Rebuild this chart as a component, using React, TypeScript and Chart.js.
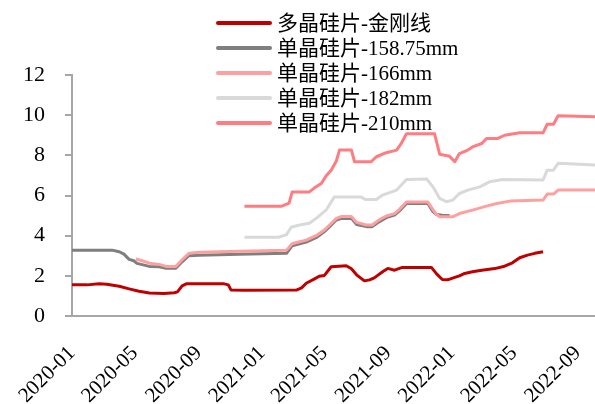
import React, { useEffect, useRef } from "react";
import { Chart, registerables } from "chart.js";

Chart.register(...registerables);

// Wafer price series (yuan per piece), weekly quotes sampled at their turning points.
const seriesNames = [
  "多晶硅片-金刚线",
  "单晶硅片-158.75mm",
  "单晶硅片-166mm",
  "单晶硅片-182mm",
  "单晶硅片-210mm",
];
const seriesColors = ["#C00000", "#7F7F7F", "#FFA0A0", "#D9D9D9", "#FF7C80"];

const tickLabels = [
  "2020-01", "2020-05", "2020-09", "2021-01", "2021-05",
  "2021-09", "2022-01", "2022-05", "2022-09",
];
const axisStart = "2020-01-01";
const axisEnd = "2022-10-04";

const polyDates = [
  "2020-01-01", "2020-01-30", "2020-02-22", "2020-03-08", "2020-04-01", "2020-04-20",
  "2020-05-09", "2020-05-29", "2020-06-26", "2020-07-16", "2020-07-22", "2020-07-31",
  "2020-08-08", "2020-10-20", "2020-10-28", "2020-11-02", "2020-11-28", "2021-03-08",
  "2021-03-18", "2021-03-27", "2021-04-12", "2021-04-21", "2021-05-01", "2021-05-14",
  "2021-06-12", "2021-06-22", "2021-07-02", "2021-07-17", "2021-07-27", "2021-08-05",
  "2021-08-21", "2021-08-31", "2021-09-13", "2021-09-28", "2021-11-23", "2021-12-03",
  "2021-12-14", "2021-12-24", "2022-01-07", "2022-01-16", "2022-01-26", "2022-02-10",
  "2022-02-28", "2022-03-25", "2022-04-13", "2022-04-28", "2022-05-12", "2022-05-27",
  "2022-06-10", "2022-06-26",
];
const polyPrices = [
  1.55, 1.55, 1.6, 1.58, 1.48, 1.35,
  1.23, 1.15, 1.12, 1.16, 1.2, 1.5,
  1.6, 1.6, 1.55, 1.3, 1.28, 1.29,
  1.4, 1.63, 1.85, 1.98, 2.02, 2.45,
  2.5, 2.35, 2.05, 1.75, 1.8, 1.9,
  2.2, 2.37, 2.28, 2.42, 2.42, 2.1,
  1.82, 1.8, 1.92, 2.0, 2.12, 2.2,
  2.28, 2.36, 2.48, 2.65, 2.9, 3.03,
  3.12, 3.2,
];

const m158Dates = [
  "2020-01-01", "2020-03-18", "2020-04-01", "2020-04-10", "2020-04-20", "2020-04-29",
  "2020-05-05", "2020-05-29", "2020-06-17", "2020-06-30", "2020-07-19", "2020-07-31",
  "2020-08-13", "2020-09-02", "2020-11-18", "2021-02-17", "2021-02-28", "2021-03-14",
  "2021-03-27", "2021-04-17", "2021-05-01", "2021-05-11", "2021-05-24", "2021-06-03",
  "2021-06-22", "2021-07-02", "2021-07-21", "2021-08-01", "2021-08-15", "2021-08-28",
  "2021-09-13", "2021-09-22", "2021-10-06", "2021-11-16", "2021-11-26", "2021-12-03",
  "2021-12-14", "2021-12-28",
];
const m158Prices = [
  3.28, 3.28, 3.2, 3.08, 2.82, 2.75,
  2.62, 2.47, 2.45, 2.38, 2.38, 2.7,
  3.0, 3.03, 3.08, 3.12, 3.5, 3.6,
  3.68, 3.93, 4.2, 4.45, 4.78, 4.86,
  4.86, 4.56, 4.45, 4.45, 4.7, 4.9,
  5.02, 5.22, 5.6, 5.6, 5.2, 5.05,
  5.02, 5.0,
];

const m166Dates = [
  "2020-05-03", "2020-05-15", "2020-05-29", "2020-06-17", "2020-06-30", "2020-07-19",
  "2020-07-31", "2020-08-13", "2020-09-02", "2020-11-18", "2021-02-17", "2021-02-28",
  "2021-03-14", "2021-03-27", "2021-04-17", "2021-05-01", "2021-05-11", "2021-05-24",
  "2021-06-03", "2021-06-22", "2021-07-02", "2021-07-21", "2021-08-01", "2021-08-15",
  "2021-08-28", "2021-09-13", "2021-09-22", "2021-10-06", "2021-11-16", "2021-11-26",
  "2021-12-03", "2021-12-09", "2022-01-03", "2022-01-16", "2022-02-10", "2022-03-09",
  "2022-03-29", "2022-04-23", "2022-06-26", "2022-07-04", "2022-07-16", "2022-07-25",
  "2022-10-04",
];
const m166Prices = [
  2.84, 2.75, 2.63, 2.57, 2.47, 2.47,
  2.8, 3.12, 3.17, 3.22, 3.28, 3.6,
  3.7, 3.78, 4.03, 4.28, 4.53, 4.86,
  4.96, 4.96, 4.66, 4.53, 4.53, 4.8,
  4.98, 5.1, 5.3, 5.68, 5.68, 5.3,
  5.05, 4.94, 4.94, 5.1, 5.27, 5.47,
  5.6, 5.72, 5.77, 6.07, 6.07, 6.27,
  6.27,
];

const m182Dates = [
  "2020-11-28", "2021-02-02", "2021-02-17", "2021-02-26", "2021-03-14", "2021-04-02",
  "2021-04-17", "2021-05-05", "2021-05-20", "2021-07-11", "2021-07-19", "2021-08-09",
  "2021-08-21", "2021-09-17", "2021-10-06", "2021-11-14", "2021-11-26", "2021-12-09",
  "2021-12-22", "2022-01-03", "2022-01-16", "2022-02-01", "2022-02-24", "2022-03-15",
  "2022-04-09", "2022-06-26", "2022-07-04", "2022-07-16", "2022-07-25", "2022-10-04",
];
const m182Prices = [
  3.92, 3.92, 4.05, 4.42, 4.53, 4.62,
  4.9, 5.3, 5.92, 5.92, 5.8, 5.8,
  6.02, 6.27, 6.8, 6.82, 6.43, 5.85,
  5.69, 5.77, 6.1, 6.27, 6.43, 6.68,
  6.8, 6.77, 7.26, 7.26, 7.6, 7.52,
];

const m210Dates = [
  "2020-11-28", "2021-02-08", "2021-02-22", "2021-02-28", "2021-04-02", "2021-04-12",
  "2021-04-25", "2021-05-05", "2021-05-14", "2021-05-24", "2021-05-30", "2021-06-22",
  "2021-06-28", "2021-07-30", "2021-08-09", "2021-08-28", "2021-09-17", "2021-09-26",
  "2021-10-06", "2021-11-29", "2021-12-09", "2021-12-28", "2022-01-07", "2022-01-16",
  "2022-02-01", "2022-02-10", "2022-02-28", "2022-03-09", "2022-03-31", "2022-04-13",
  "2022-05-12", "2022-06-26", "2022-07-04", "2022-07-16", "2022-07-25", "2022-10-04",
];
const m210Prices = [
  5.47, 5.47, 5.62, 6.18, 6.18, 6.38,
  6.6, 7.0, 7.26, 7.72, 8.26, 8.26,
  7.68, 7.68, 7.93, 8.13, 8.26, 8.59,
  9.08, 9.08, 8.05, 7.95, 7.68, 8.09,
  8.26, 8.42, 8.59, 8.84, 8.84, 9.0,
  9.12, 9.12, 9.55, 9.55, 9.97, 9.92,
];

const seriesDates = [polyDates, m158Dates, m166Dates, m182Dates, m210Dates];
const seriesPrices = [polyPrices, m158Prices, m166Prices, m182Prices, m210Prices];

const DAY = 86400000;
const dayOf = (s: string) => {
  const [y, m, d] = s.split("-").map(Number);
  return (Date.UTC(y, m - 1, d || 1) - Date.UTC(2020, 0, 1)) / DAY;
};

const FONT = '"Liberation Serif", "Times New Roman", "Noto Sans CJK SC", serif';
const AXIS_GRAY = "#A6A6A6";

// Vertical legend drawn over the top of the plot area.
const stackedLegend = {
  id: "stackedLegend",
  afterDraw(chart: Chart) {
    const { ctx } = chart;
    ctx.save();
    ctx.font = `21px ${FONT}`;
    ctx.textBaseline = "middle";
    ctx.textAlign = "left";
    seriesNames.forEach((name, i) => {
      const y = 23 + i * 25;
      ctx.strokeStyle = seriesColors[i];
      ctx.lineWidth = 4;
      ctx.lineCap = "round";
      ctx.beginPath();
      ctx.moveTo(218, y);
      ctx.lineTo(270, y);
      ctx.stroke();
      ctx.fillStyle = "#000000";
      ctx.fillText(name, 277, y + 1);
    });
    ctx.restore();
  },
};

export default function App() {
  const canvasRef = useRef<HTMLCanvasElement | null>(null);

  useEffect(() => {
    document.body.style.margin = "0";
    const canvas = canvasRef.current;
    if (!canvas) return;

    const tickDays = tickLabels.map((t) => dayOf(t));

    const datasets = seriesNames.map((name, i) => ({
      label: name,
      data: seriesDates[i].map((d, k) => ({ x: dayOf(d), y: seriesPrices[i][k] })),
      borderColor: seriesColors[i],
      backgroundColor: seriesColors[i],
      borderWidth: 3,
      pointRadius: 0,
      tension: 0,
      borderJoinStyle: "round" as const,
      borderCapStyle: "butt" as const,
      fill: false,
      order: seriesNames.length - i,
    }));

    const chart = new Chart(canvas, {
      type: "line",
      data: { datasets },
      options: {
        responsive: false,
        animation: false,
        devicePixelRatio: 1,
        layout: { padding: { top: 75, right: 0, left: 0, bottom: 0 } },
        plugins: {
          legend: { display: false },
          tooltip: { enabled: false },
          title: { display: false },
        },
        scales: {
          x: {
            type: "linear",
            min: dayOf(axisStart),
            max: dayOf(axisEnd),
            afterBuildTicks: (scale: any) => {
              scale.ticks = tickDays.map((v) => ({ value: v }));
            },
            afterFit: (scale: any) => {
              scale.height = 88;
              // the plot runs to the right edge; rotated labels never overflow it
              scale.paddingRight = 0;
              scale.paddingLeft = 0;
            },
            ticks: {
              autoSkip: false,
              minRotation: 45,
              maxRotation: 45,
              padding: 17,
              color: "#000000",
              font: { family: FONT, size: 21 },
              callback: (value: any) => {
                const idx = tickDays.indexOf(Number(value));
                return idx >= 0 ? tickLabels[idx] : "";
              },
            },
            grid: { display: false },
            border: { display: true, color: AXIS_GRAY, width: 2 },
          },
          y: {
            min: 0,
            max: 12,
            afterFit: (scale: any) => {
              scale.width = 72;
            },
            ticks: {
              stepSize: 2,
              padding: 20,
              color: "#000000",
              font: { family: FONT, size: 22 },
            },
            grid: {
              display: true,
              drawOnChartArea: false,
              drawTicks: true,
              tickLength: 7,
              color: AXIS_GRAY,
              lineWidth: 2,
            },
            border: { display: true, color: AXIS_GRAY, width: 2 },
          },
        },
      },
      plugins: [stackedLegend],
    });

    return () => chart.destroy();
  }, []);

  return (
    <div style={{ width: 595, height: 404, background: "#ffffff" }}>
      <canvas ref={canvasRef} width={595} height={404} />
    </div>
  );
}
